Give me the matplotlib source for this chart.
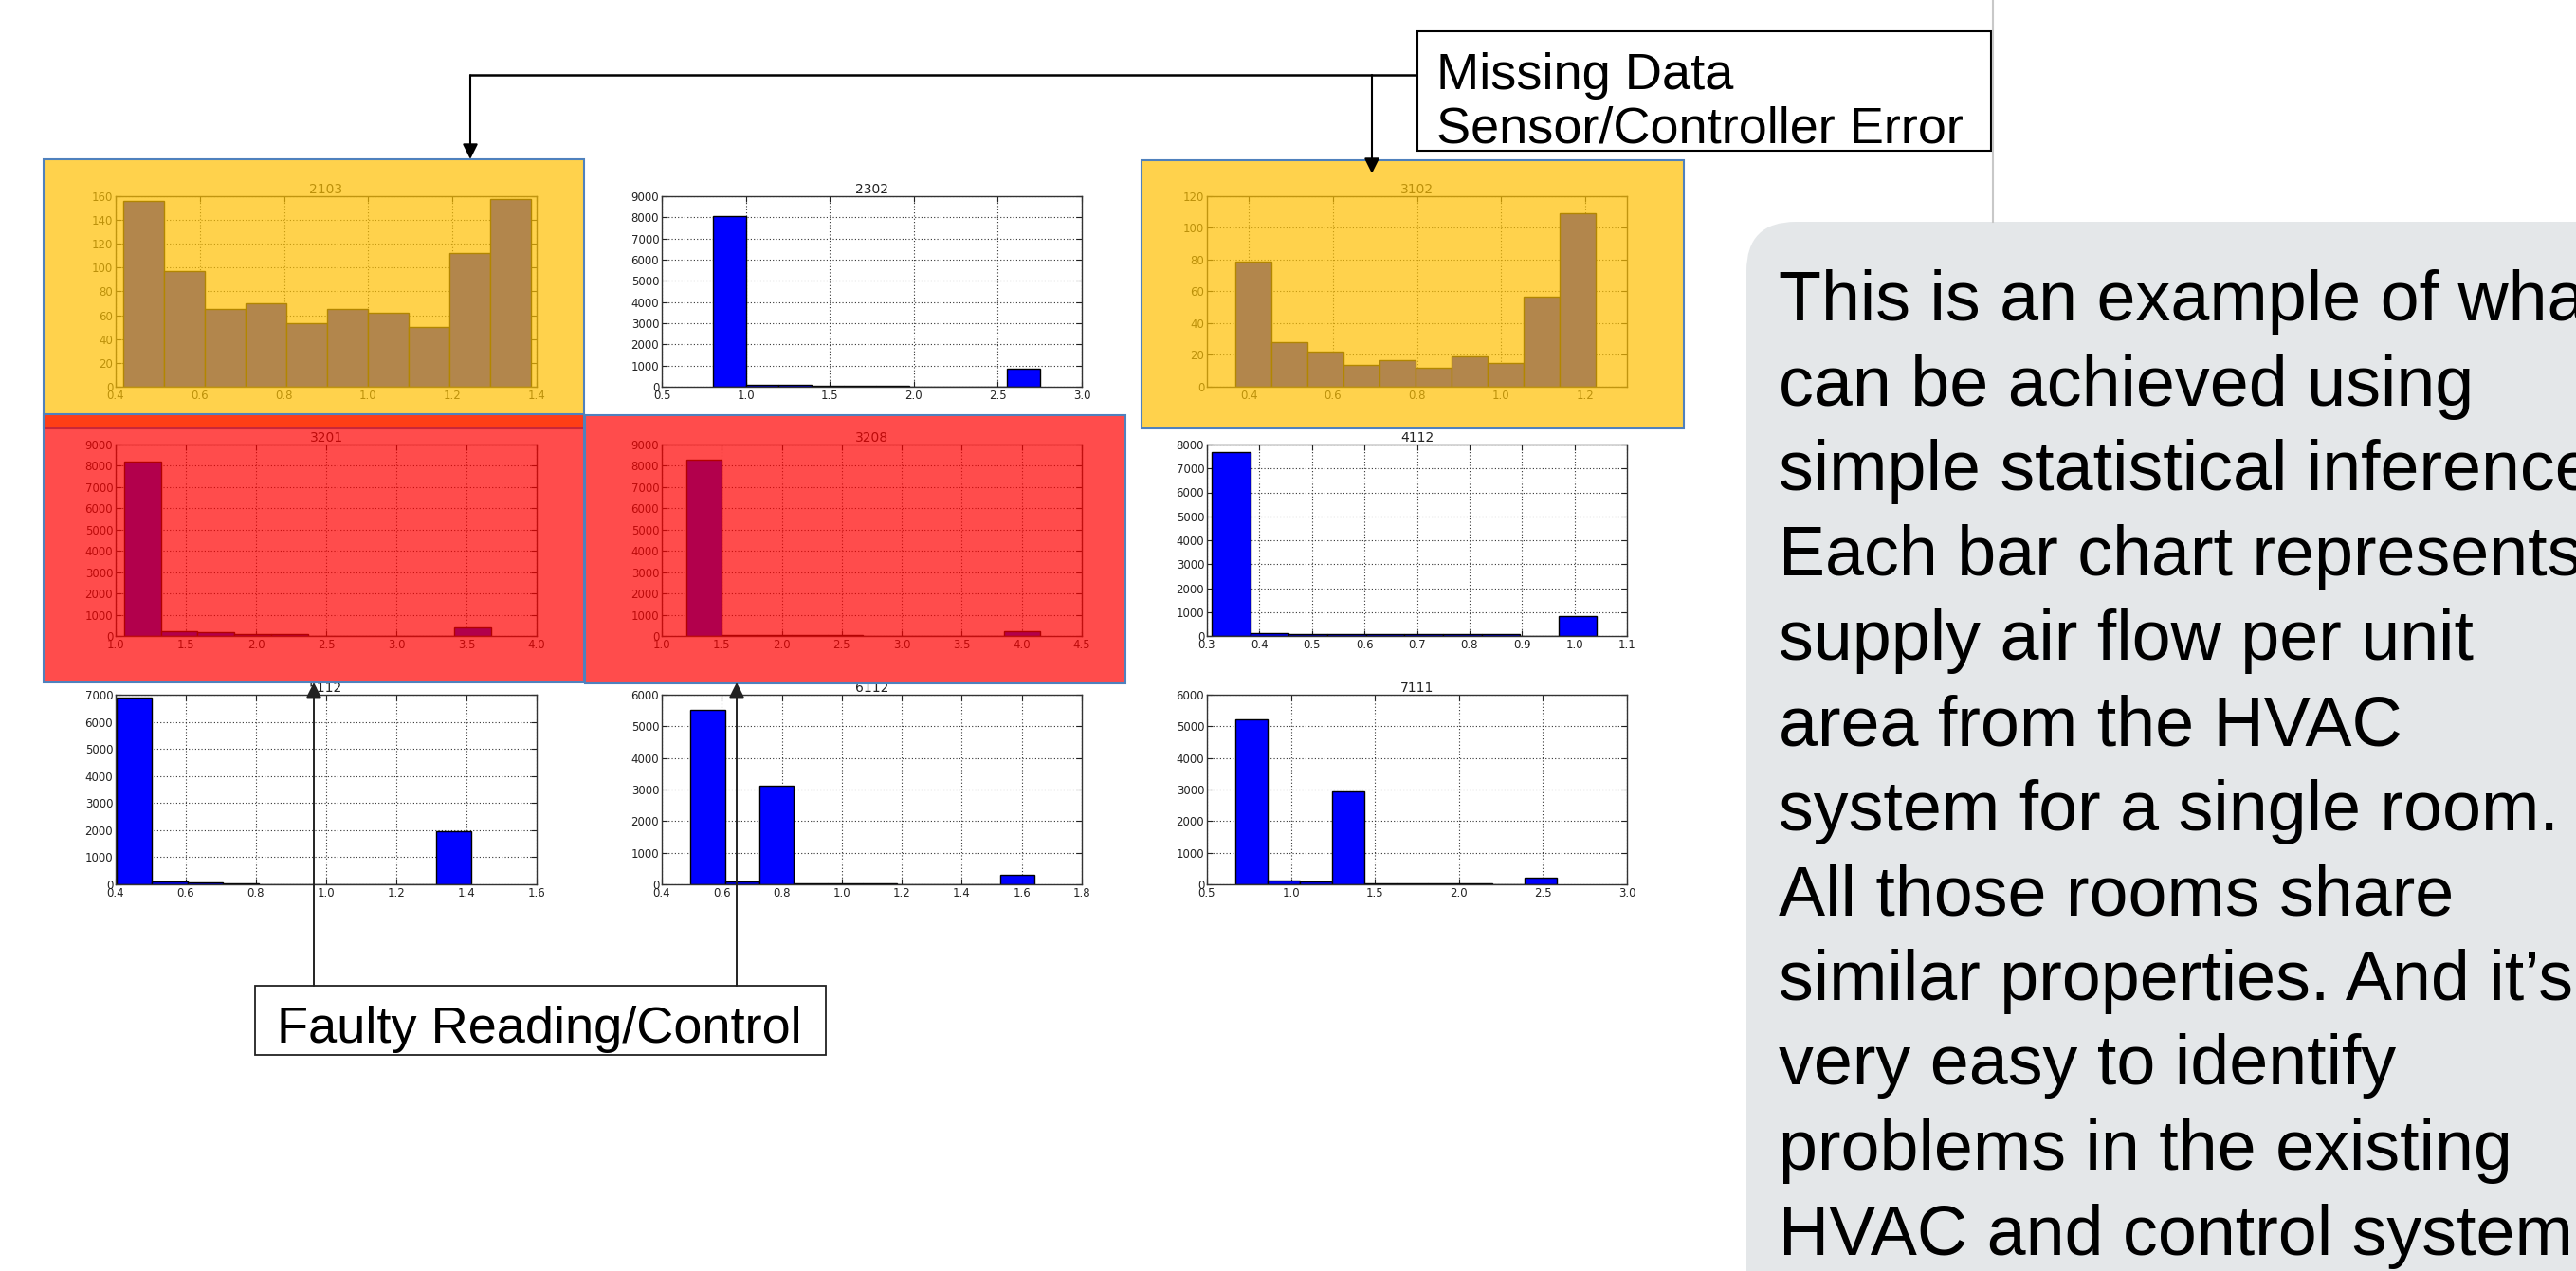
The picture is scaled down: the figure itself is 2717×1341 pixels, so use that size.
import numpy as np
import matplotlib
matplotlib.use("Agg")
import matplotlib.pyplot as plt
from matplotlib.patches import Rectangle, FancyBboxPatch
from matplotlib.ticker import MultipleLocator

W, H = 2717, 1341

# room ids, left to right, top to bottom
rooms = ["2103", "2302", "3102", "3201", "3208", "4112", "5112", "6112", "7111"]

# histogram counts (10 bins each)
counts_2103 = [156, 97, 65, 70, 53, 65, 62, 50, 112, 158]
counts_2302 = [8050, 90, 80, 45, 35, 25, 5, 5, 0, 870]
counts_3102 = [79, 28, 22, 14, 17, 12, 19, 15, 57, 109]
counts_3201 = [8180, 240, 200, 100, 70, 20, 10, 5, 0, 390]
counts_3208 = [8300, 40, 30, 30, 25, 20, 15, 5, 0, 240]
counts_4112 = [7680, 100, 90, 90, 90, 90, 80, 70, 10, 830]
counts_5112 = [6900, 90, 80, 20, 10, 10, 5, 5, 5, 1960]
counts_6112 = [5530, 80, 3130, 30, 25, 20, 10, 5, 5, 300]
counts_7111 = [5210, 110, 80, 2950, 25, 20, 20, 20, 5, 200]

# first and last bin edge (supply air flow per unit area)
range_2103 = (0.417, 1.387)
range_2302 = (0.807, 2.749)
range_3102 = (0.368, 1.226)
range_3201 = (1.061, 3.677)
range_3208 = (1.202, 4.149)
range_4112 = (0.309, 1.043)
range_5112 = (0.402, 1.414)
range_6112 = (0.496, 1.642)
range_7111 = (0.671, 2.582)

# axis ranges and tick steps
xlims = [(0.4, 1.4), (0.5, 3.0), (0.3, 1.3), (1.0, 4.0), (1.0, 4.5),
         (0.3, 1.1), (0.4, 1.6), (0.4, 1.8), (0.5, 3.0)]
xsteps = [0.2, 0.5, 0.2, 0.5, 0.5, 0.1, 0.2, 0.2, 0.5]
ytops = [160, 9000, 120, 9000, 9000, 8000, 7000, 6000, 6000]
ysteps = [20, 1000, 20, 1000, 1000, 1000, 1000, 1000, 1000]

all_counts = [counts_2103, counts_2302, counts_3102, counts_3201, counts_3208,
              counts_4112, counts_5112, counts_6112, counts_7111]
all_ranges = [range_2103, range_2302, range_3102, range_3201, range_3208,
              range_4112, range_5112, range_6112, range_7111]

missing_label = ["Missing Data", "Sensor/Controller Error"]
faulty_label = "Faulty Reading/Control"
body_lines = [
    "This is an example of what",
    "can be achieved using",
    "simple statistical inference.",
    "Each bar chart represents",
    "supply air flow per unit",
    "area from the HVAC",
    "system for a single room.",
    "All those rooms share",
    "similar properties. And it\u2019s",
    "very easy to identify",
    "problems in the existing",
    "HVAC and control system.",
]

# layout in pixels (from top-left)
col_x = [(122, 566), (698, 1141), (1273, 1716)]
row_y = [(207, 408), (469, 671), (733, 933)]


def fig_rect(x0, y0, x1, y1):
    return [x0 / W, 1 - y1 / H, (x1 - x0) / W, (y1 - y0) / H]


fig = plt.figure(figsize=(W / 100, H / 100), dpi=100, facecolor="white")

for i, room in enumerate(rooms):
    r, c = divmod(i, 3)
    ax = fig.add_axes(fig_rect(col_x[c][0], row_y[r][0], col_x[c][1], row_y[r][1]))
    counts = all_counts[i]
    lo, hi = all_ranges[i]
    edges = np.linspace(lo, hi, len(counts) + 1)
    ax.bar(edges[:-1], counts, width=np.diff(edges), align="edge",
           color="#0000ff", edgecolor="black", linewidth=1.0)
    ax.set_xlim(*xlims[i])
    ax.set_ylim(0, ytops[i])
    ax.xaxis.set_major_locator(MultipleLocator(xsteps[i]))
    ax.yaxis.set_major_locator(MultipleLocator(ysteps[i]))
    ax.set_axisbelow(True)
    ax.grid(True, color="#333333", linestyle=(0, (1, 2)), linewidth=0.8)
    ax.tick_params(direction="in", top=True, right=True, length=4,
                   labelsize=8.5, pad=2, colors="#222222")
    for sp in ax.spines.values():
        sp.set_color("#333333")
        sp.set_linewidth(1.0)
    ax.set_title(room, fontsize=10, pad=2, color="#222222")

# overlay for highlights, callouts and the text panel
ov = fig.add_axes([0, 0, 1, 1], zorder=10)
ov.set_xlim(0, W)
ov.set_ylim(H, 0)
ov.axis("off")

yellow = (1.0, 0.753, 0.0, 0.7)
red = (1.0, 0.0, 0.0, 0.7)
edge = "#4F81BD"
ov.add_patch(Rectangle((46, 168), 570, 284, facecolor=yellow, edgecolor=edge, lw=1.5))
ov.add_patch(Rectangle((1204, 169), 572, 283, facecolor=yellow, edgecolor=edge, lw=1.5))
ov.add_patch(Rectangle((46, 437), 570, 283, facecolor=red, edgecolor=edge, lw=1.5))
ov.add_patch(Rectangle((617, 438), 570, 283, facecolor=red, edgecolor=edge, lw=1.5))

# slide edge line
ov.plot([2102, 2102], [0, 234], color="#C8C8C8", lw=1.5)

# "Missing Data" callout
ov.add_patch(Rectangle((1495, 33), 605, 126, facecolor="white", edgecolor="black", lw=1.5))
ov.text(1515, 94, missing_label[0], fontsize=39, family="Liberation Sans", va="baseline")
ov.text(1515, 150, missing_label[1], fontsize=39, family="Liberation Sans", va="baseline")
ov.plot([1495, 496], [79, 79], color="black", lw=1.8, solid_capstyle="butt")
arrow = dict(arrowstyle="-|>", color="black", lw=1.5, mutation_scale=24,
             shrinkA=0, shrinkB=0)
ov.annotate("", xy=(496, 168), xytext=(496, 79), arrowprops=arrow)
ov.annotate("", xy=(1447, 183), xytext=(1447, 79), arrowprops=arrow)

# "Faulty Reading/Control" callout
arrow2 = dict(arrowstyle="-|>", color="#222222", lw=1.4, mutation_scale=24,
              shrinkA=0, shrinkB=0)
ov.annotate("", xy=(331, 720), xytext=(331, 1040), arrowprops=arrow2)
ov.annotate("", xy=(777, 720), xytext=(777, 1040), arrowprops=arrow2)
ov.add_patch(Rectangle((269, 1040), 602, 73, facecolor="white", edgecolor="#222222", lw=1.3))
ov.text(292, 1100, faulty_label, fontsize=39, family="Liberation Sans", va="baseline")

# text panel on the right
ov.add_patch(FancyBboxPatch((1842, 234), 1000, 1200,
                            boxstyle="round,pad=0,rounding_size=52",
                            facecolor="#E4E7E9", edgecolor="none"))
for k, line in enumerate(body_lines):
    ov.text(1876, 338 + k * 89.6, line, fontsize=53, family="Liberation Sans",
            va="baseline", color="black")

fig.savefig("out.png", dpi=100)
